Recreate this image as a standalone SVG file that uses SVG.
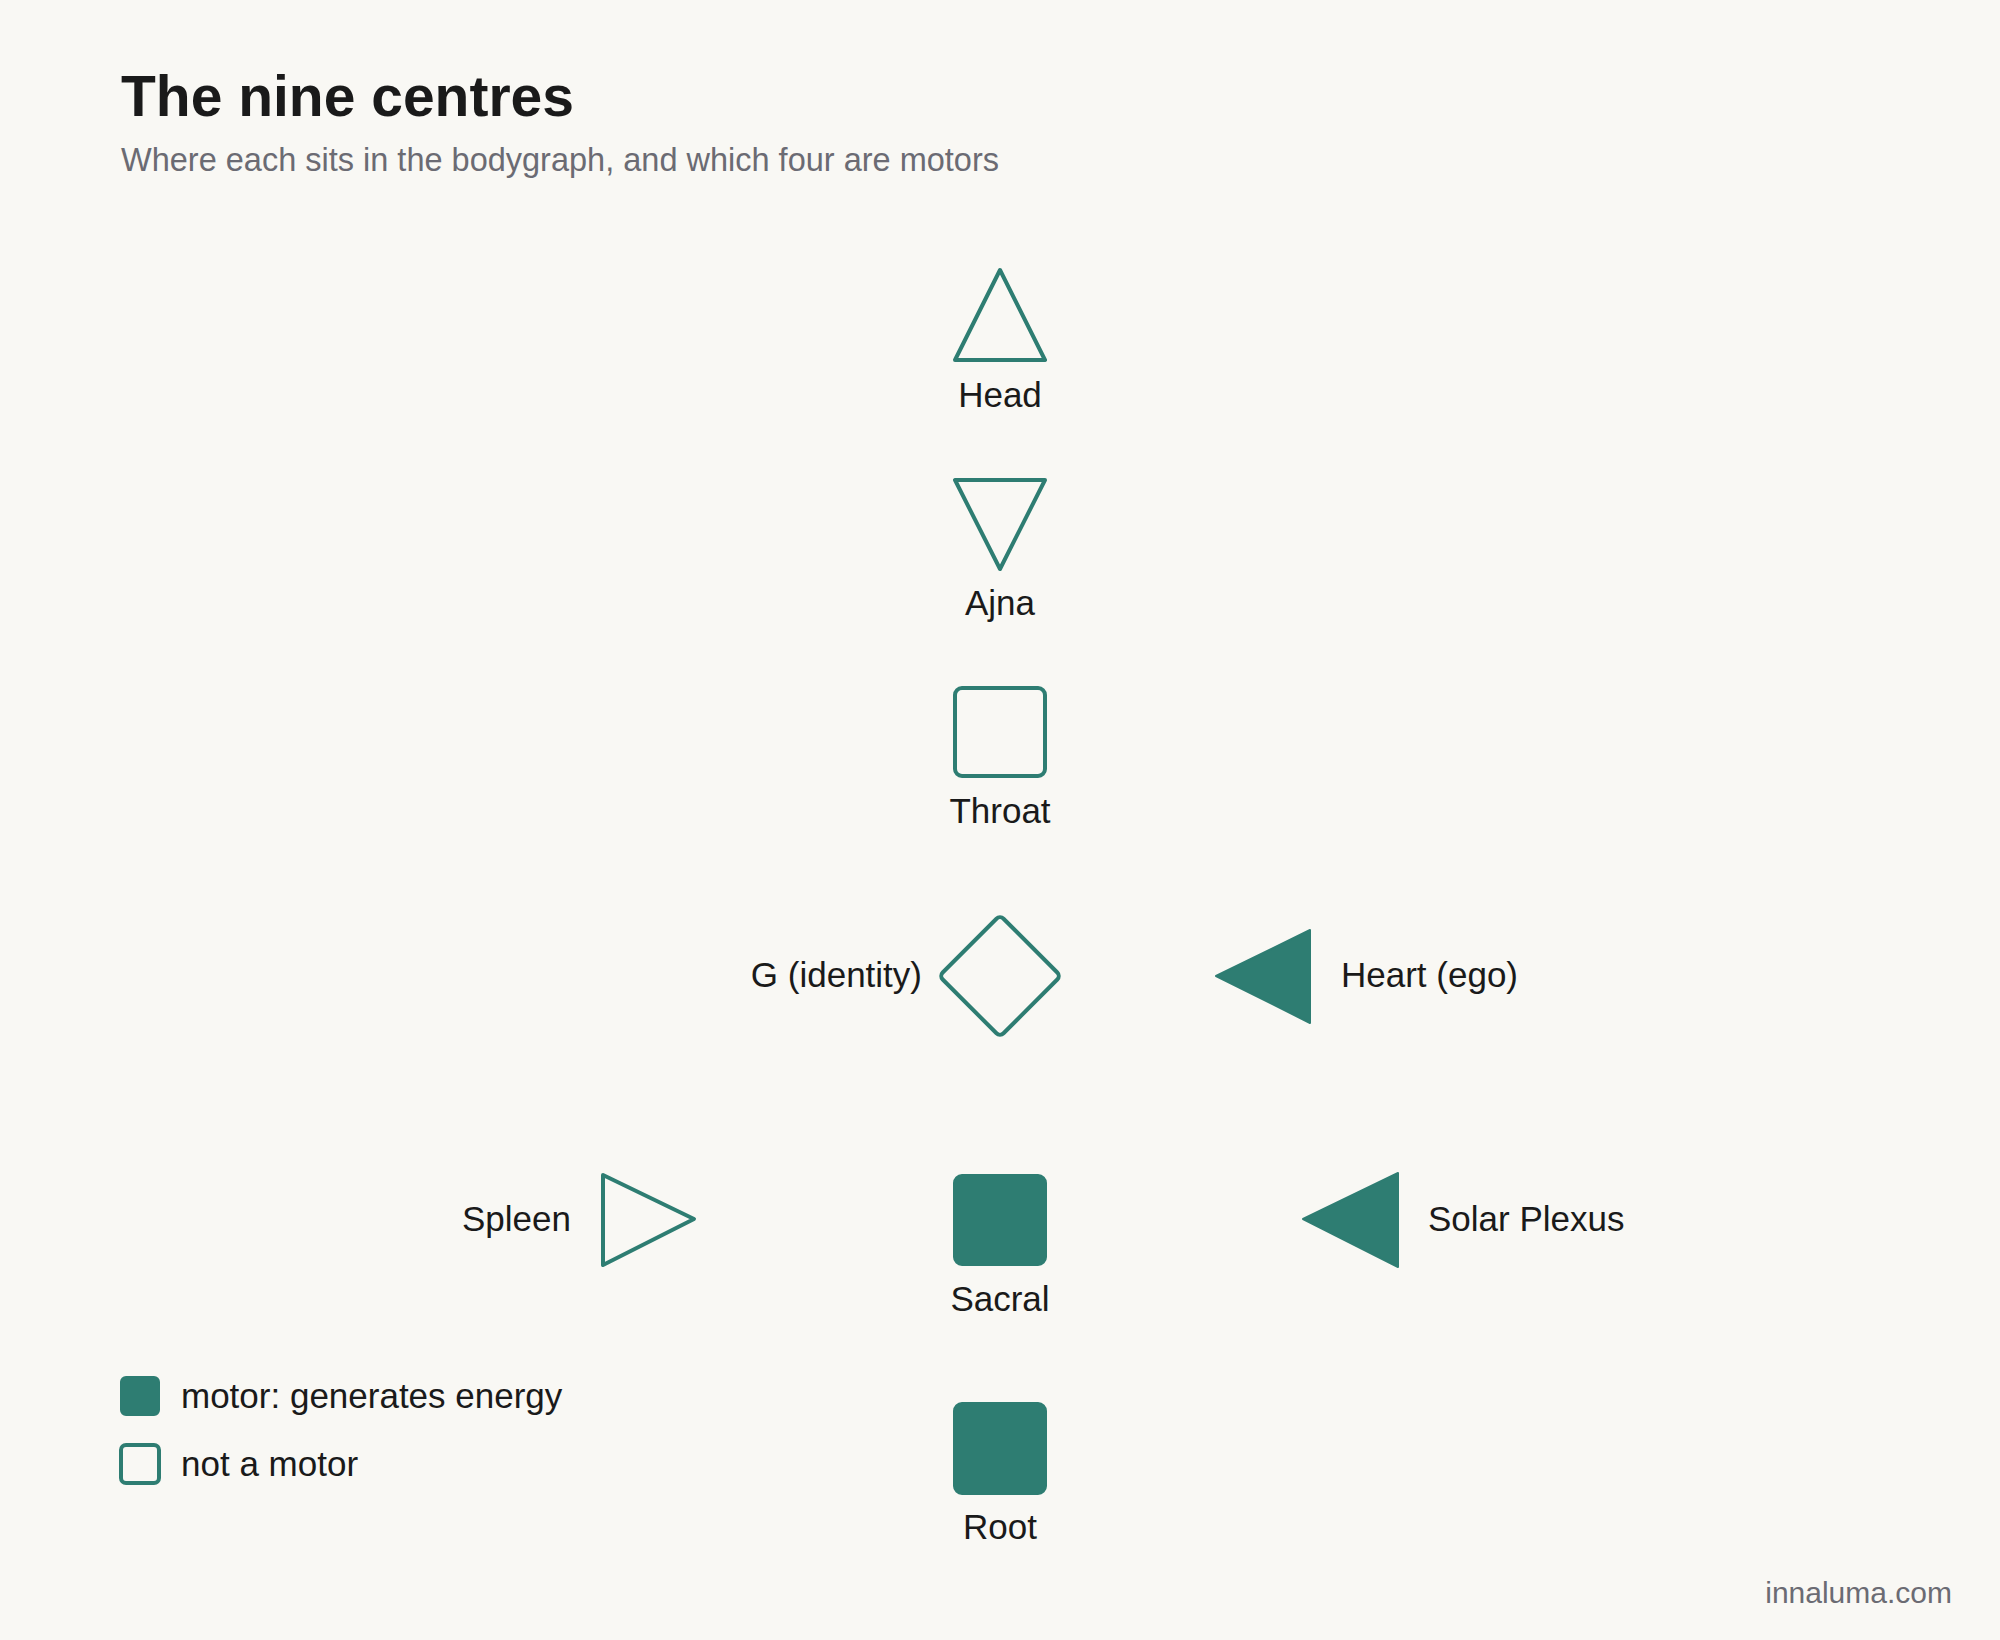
<svg xmlns="http://www.w3.org/2000/svg" width="2000" height="1640" viewBox="0 0 2000 1640">
<style>
text{font-family:"Liberation Sans",Arial,sans-serif;fill:#1a1a1a}
.lbl{font-size:35px}
.o{fill:none;stroke:#2e7d72;stroke-width:4;stroke-linejoin:round}
.f{fill:#2e7d72;stroke:#2e7d72;stroke-width:2;stroke-linejoin:round}
</style>
<rect width="2000" height="1640" fill="#f9f8f4"/>
<text x="121" y="116" font-size="57" font-weight="bold">The nine centres</text>
<text x="121" y="171" font-size="32.5" style="fill:#6b6b73">Where each sits in the bodygraph, and which four are motors</text>
<g id="connectors"></g>
<g id="head"><polygon class="o" points="1000,270 1045,360 955,360"/><text class="lbl" x="1000" y="407" text-anchor="middle">Head</text></g>
<g id="ajna"><polygon class="o" points="955,480 1045,480 1000,569"/><text class="lbl" x="1000" y="615" text-anchor="middle">Ajna</text></g>
<g id="throat"><rect class="o" x="955" y="688" width="90" height="88" rx="7"/><text class="lbl" x="1000" y="823" text-anchor="middle">Throat</text></g>
<g id="g"><rect class="o" x="957" y="933" width="86" height="86" rx="5" transform="rotate(45 1000 976)"/><text class="lbl" x="922" y="987" text-anchor="end">G (identity)</text></g>
<g id="heart"><polygon class="f" points="1216,976 1310,930 1310,1023"/><text class="lbl" x="1341" y="987">Heart (ego)</text></g>
<g id="spleen"><polygon class="o" points="603,1175 694,1219 603,1265"/><text class="lbl" x="571" y="1231" text-anchor="end">Spleen</text></g>
<g id="sacral"><rect class="f" x="954" y="1175" width="92" height="90" rx="8"/><text class="lbl" x="1000" y="1311" text-anchor="middle">Sacral</text></g>
<g id="solar"><polygon class="f" points="1303,1219 1398,1173 1398,1267"/><text class="lbl" x="1428" y="1231">Solar Plexus</text></g>
<g id="root"><rect class="f" x="954" y="1403" width="92" height="91" rx="8"/><text class="lbl" x="1000" y="1539" text-anchor="middle">Root</text></g>
<g id="legend">
<rect class="f" x="121" y="1377" width="38" height="38" rx="5"/><text class="lbl" x="181" y="1408">motor: generates energy</text>
<rect class="o" x="121" y="1445" width="38" height="38" rx="5"/><text class="lbl" x="181" y="1476">not a motor</text>
</g>
<text x="1952" y="1603" font-size="30" text-anchor="end" style="fill:#6b6b73">innaluma.com</text>
</svg>
